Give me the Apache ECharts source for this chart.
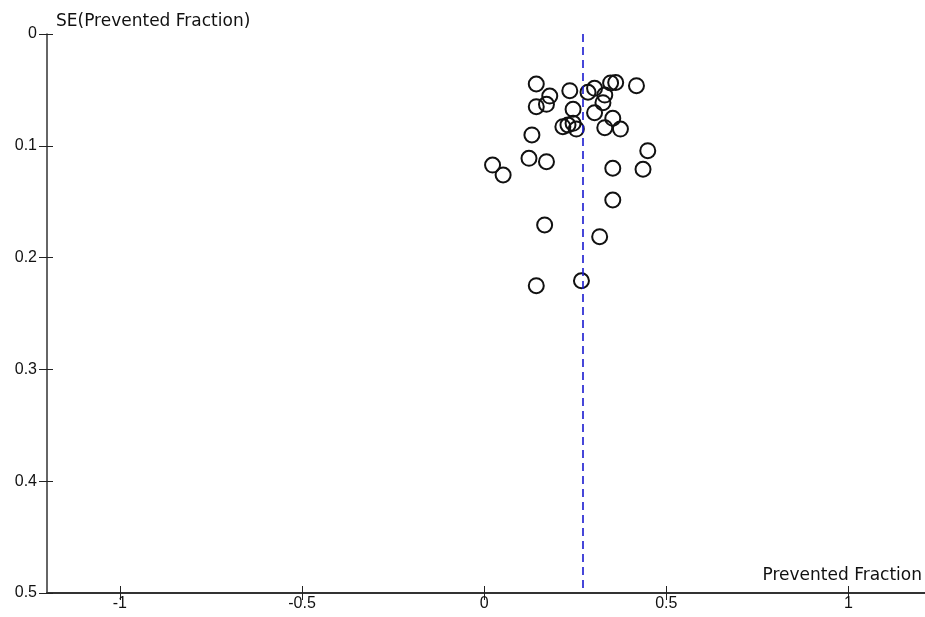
<!DOCTYPE html>
<html>
<head>
<meta charset="utf-8">
<script src="https://cdn.jsdelivr.net/npm/echarts@6/dist/echarts.min.js"></script>
<style>
html,body{margin:0;padding:0;background:#fff;}
#chart{width:925px;height:617px;}
</style>
</head>
<body>
<div id="chart"></div>
<script>
// Prevented fraction (x) and its standard error (y) for each study
const preventedFraction = [0.143,0.180,0.143,0.171,0.235,0.285,0.303,0.331,0.347,0.361,0.418,0.244,0.326,0.303,0.353,0.331,0.374,0.216,0.230,0.244,0.253,0.131,0.449,0.023,0.052,0.123,0.171,0.353,0.436,0.353,0.166,0.317,0.267,0.143];
const seValues = [0.0447,0.0555,0.0650,0.0629,0.0507,0.0521,0.0486,0.0546,0.0438,0.0434,0.0462,0.0674,0.0614,0.0704,0.0754,0.0838,0.0850,0.0829,0.0814,0.0799,0.0850,0.0903,0.1044,0.1172,0.1261,0.1112,0.1142,0.1201,0.1210,0.1485,0.1708,0.1813,0.2207,0.2251];
const pooledEstimate = 0.266;
const xTicks = [-1, -0.5, 0, 0.5, 1];
const yTicks = [0, 0.1, 0.2, 0.3, 0.4, 0.5];
const xName = 'Prevented Fraction';
const yName = 'SE(Prevented Fraction)';

const points = preventedFraction.map((v, i) => [v, seValues[i]]);
const labelFont = {fontFamily: 'Liberation Sans', fontSize: 16, color: '#111'};

const chart = echarts.init(document.getElementById('chart'));
chart.setOption({
  animation: false,
  backgroundColor: '#fff',
  grid: {left: 47, right: 0, top: 34, bottom: 24, containLabel: false},
  xAxis: [{
    type: 'value', min: -1.2, max: 1.21, position: 'bottom',
    splitLine: {show: false},
    axisLine: {show: true, onZero: false, lineStyle: {color: '#333', width: 2}},
    axisTick: {show: true, length: 7, inside: false, customValues: xTicks, lineStyle: {color: '#222', width: 1}},
    axisLabel: Object.assign({margin: 3, customValues: xTicks, formatter: function(v){return String(v);}}, labelFont)
  }, {
    type: 'value', min: -1.2, max: 1.21, position: 'bottom',
    splitLine: {show: false},
    axisLine: {show: false, onZero: false},
    axisTick: {show: true, length: 7, inside: true, customValues: xTicks, lineStyle: {color: '#222', width: 1}},
    axisLabel: {show: false}
  }],
  yAxis: [{
    type: 'value', min: 0, max: 0.5, inverse: true, position: 'left',
    splitLine: {show: false},
    axisLine: {show: true, onZero: false, lineStyle: {color: '#333', width: 1.5}},
    axisTick: {show: true, length: 8, inside: false, customValues: yTicks, lineStyle: {color: '#222', width: 1}},
    axisLabel: Object.assign({margin: 10, customValues: yTicks, formatter: function(v){return String(v);}}, labelFont)
  }, {
    type: 'value', min: 0, max: 0.5, inverse: true, position: 'left',
    splitLine: {show: false},
    axisLine: {show: false, onZero: false},
    axisTick: {show: true, length: 6, inside: true, customValues: yTicks, lineStyle: {color: '#222', width: 1}},
    axisLabel: {show: false}
  }],
  graphic: [
    {type: 'text', left: 56, top: 13, style: {text: yName, font: '17px "DejaVu Sans"', fill: '#111'}},
    {type: 'text', right: 3, top: 567, style: {text: xName, font: '17px "DejaVu Sans"', fill: '#111'}}
  ],
  series: [{
    type: 'scatter',
    xAxisIndex: 0, yAxisIndex: 0,
    data: points,
    symbol: 'circle',
    symbolSize: 15,
    itemStyle: {color: 'rgba(0,0,0,0)', borderColor: '#111', borderWidth: 2, opacity: 1},
    markLine: {
      silent: true, symbol: ['none', 'none'],
      label: {show: false},
      lineStyle: {color: '#1a1ad0', type: [8, 5], width: 1.6},
      data: [{xAxis: pooledEstimate}]
    }
  }]
});
</script>
</body>
</html>
